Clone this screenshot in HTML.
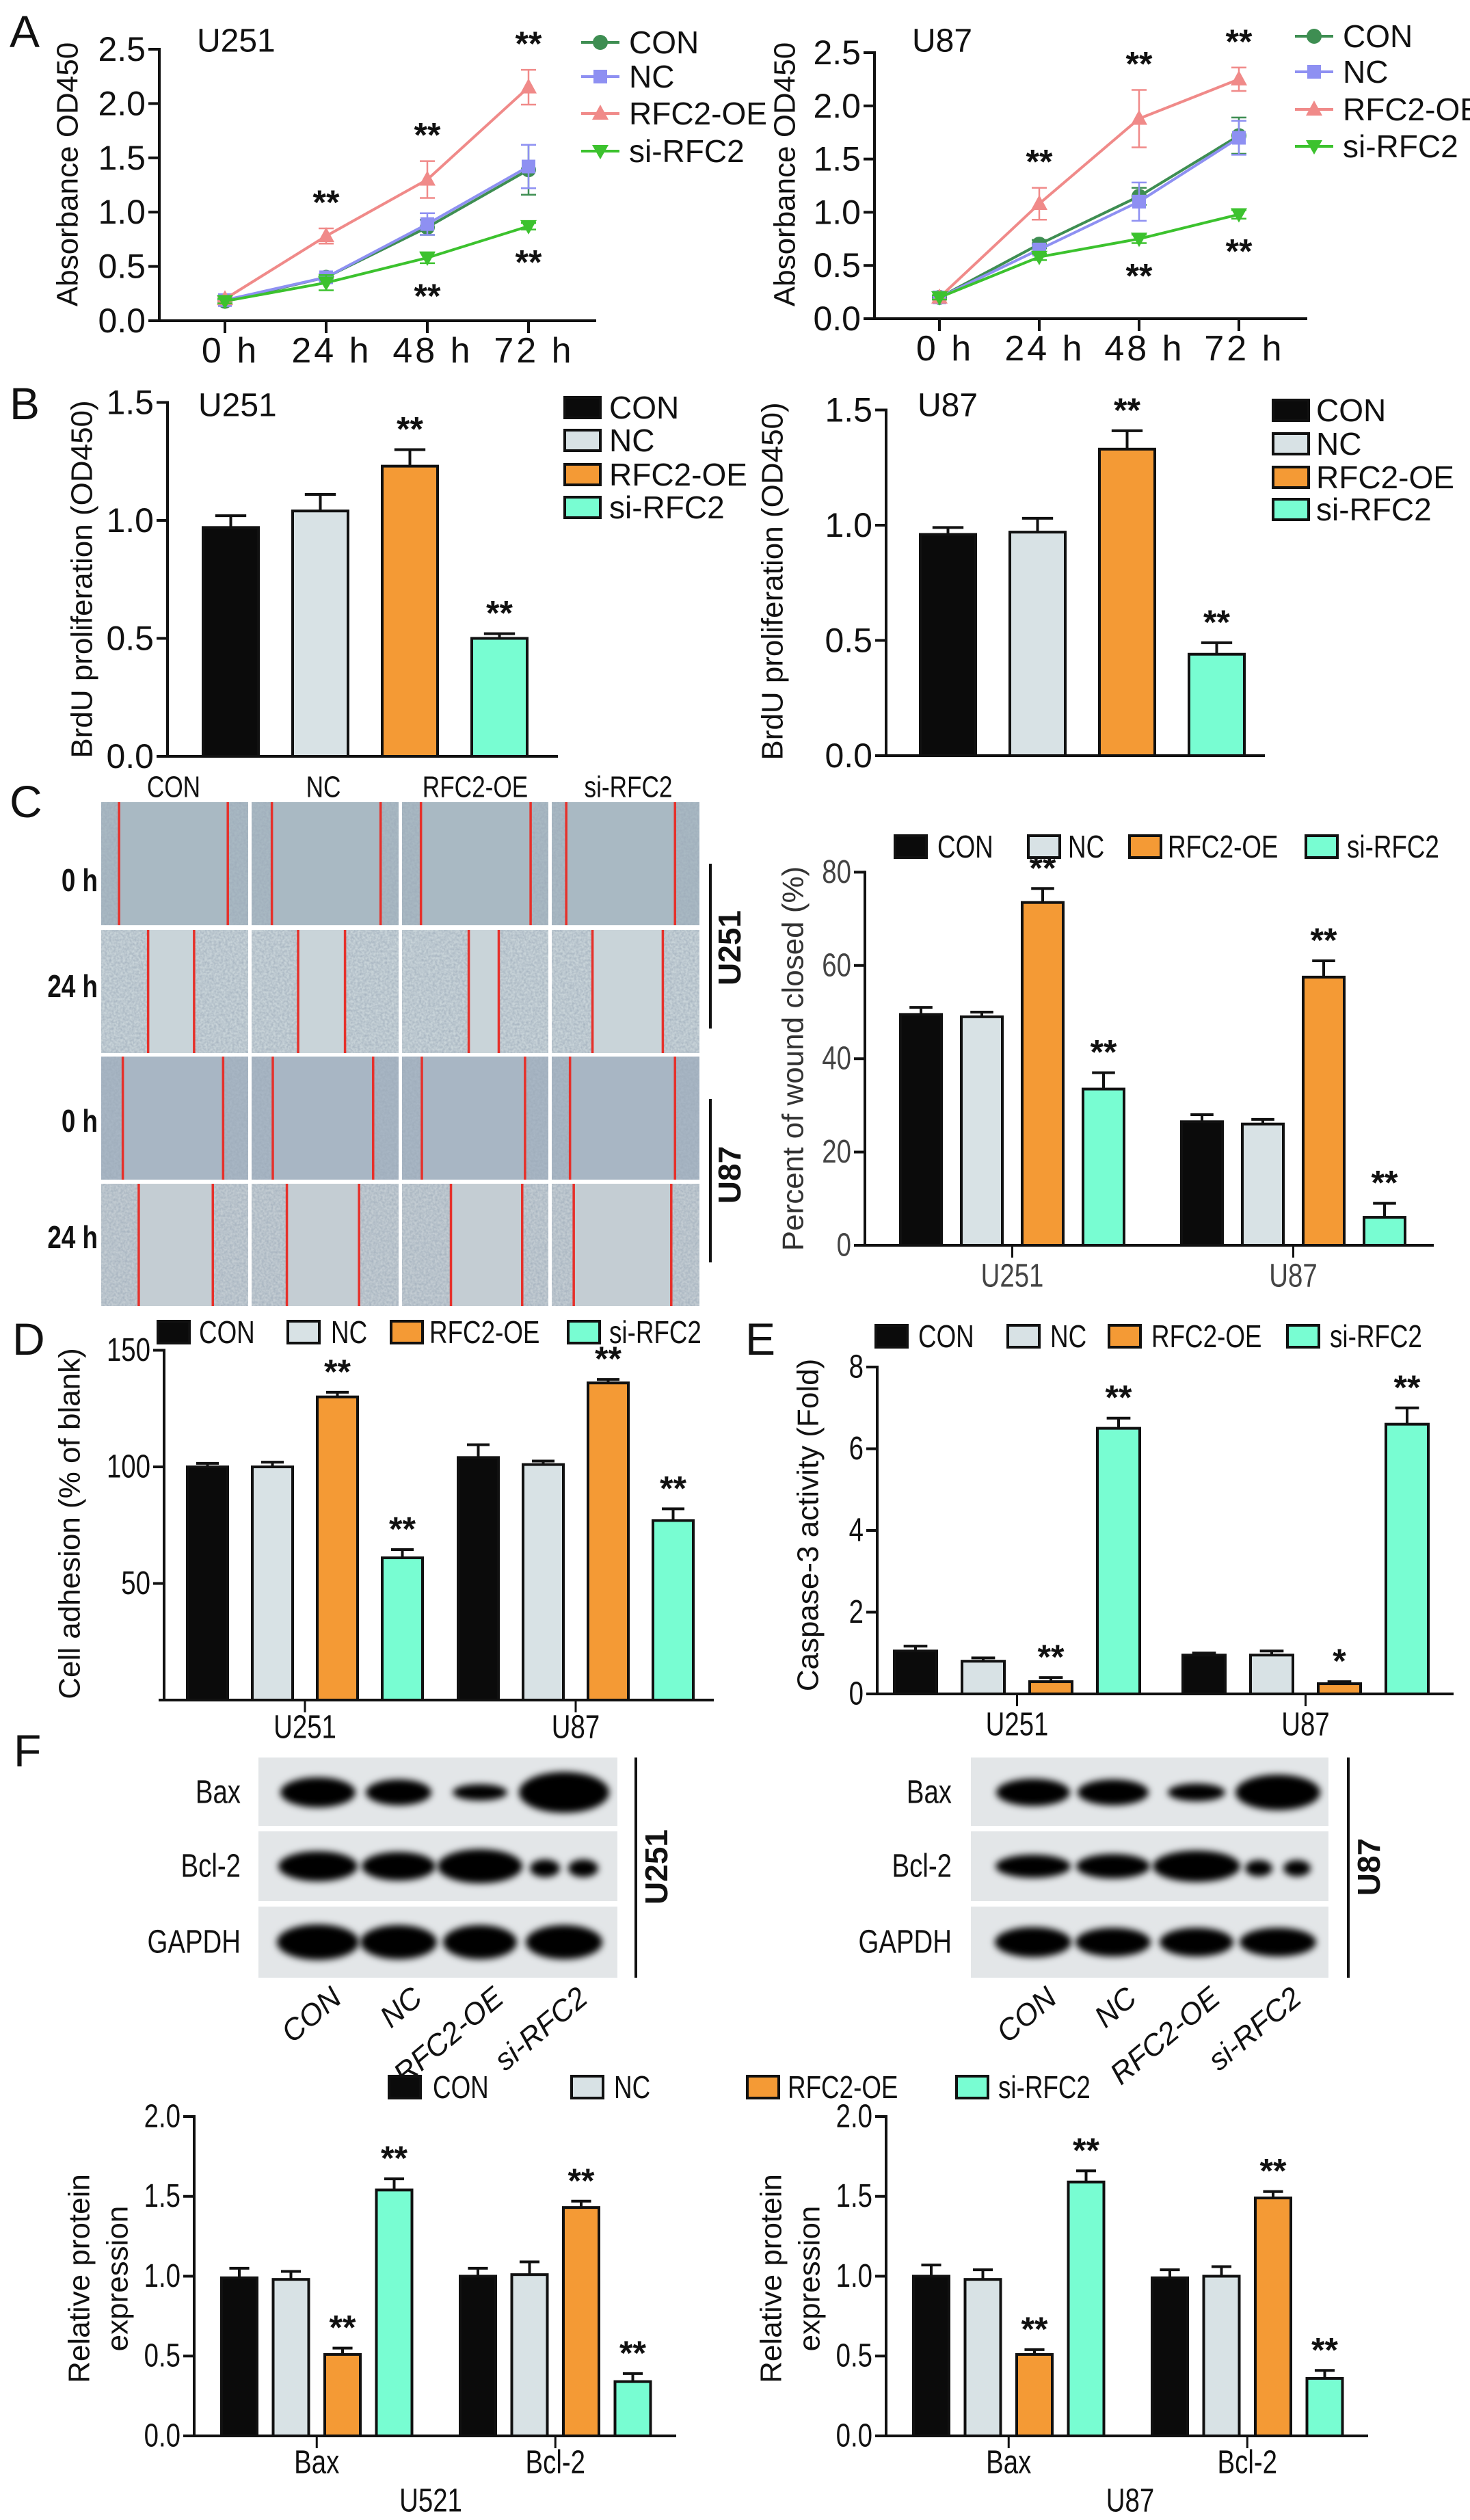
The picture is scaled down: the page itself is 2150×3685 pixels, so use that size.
<!DOCTYPE html>
<html><head><meta charset="utf-8"><style>
html,body{margin:0;padding:0;background:#fff}
svg{display:block}
text{font-family:"Liberation Sans",sans-serif}
</style></head><body>
<svg id="fig" width="2150" height="3685" viewBox="0 0 2150 3685" xmlns="http://www.w3.org/2000/svg">
<defs>
<filter id="blur" x="-30%" y="-60%" width="160%" height="220%"><feGaussianBlur stdDeviation="5"/></filter>
<filter id="tex" x="0" y="0" width="100%" height="100%"><feTurbulence type="fractalNoise" baseFrequency="0.3" numOctaves="2" seed="3"/><feColorMatrix type="matrix" values="0 0 0 0 0.33 0 0 0 0 0.4 0 0 0 0 0.48 0 0 0 1.2 -0.3"/></filter>
</defs>
</svg>
<script>
// ---------- data ----------
const timeLabels = ["0 h","24 h","48 h","72 h"];
const groups = ["CON","NC","RFC2-OE","si-RFC2"];
const yTicksA = [0,0.5,1.0,1.5,2.0,2.5];
const aU251CON = [0.18,0.40,0.86,1.39];
const aU251NC  = [0.19,0.40,0.89,1.42];
const aU251OE  = [0.20,0.78,1.30,2.15];
const aU251SI  = [0.18,0.35,0.58,0.87];
const aU251CONe = [0.02,0.03,0.07,0.23];
const aU251NCe  = [0.02,0.03,0.10,0.20];
const aU251OEe  = [0.02,0.07,0.17,0.16];
const aU251SIe  = [0.02,0.07,0.05,0.03];
const aU87CON = [0.20,0.70,1.15,1.72];
const aU87NC  = [0.20,0.65,1.10,1.70];
const aU87OE  = [0.20,1.08,1.88,2.25];
const aU87SI  = [0.20,0.58,0.75,0.98];
const aU87CONe = [0.02,0.04,0.08,0.17];
const aU87NCe  = [0.02,0.04,0.18,0.16];
const aU87OEe  = [0.02,0.15,0.27,0.11];
const aU87SIe  = [0.02,0.03,0.04,0.04];
const yTicksB = [0,0.5,1.0,1.5];
const bU251 = [0.97,1.04,1.23,0.50];
const bU251e = [0.05,0.07,0.07,0.02];
const bU87 = [0.96,0.97,1.33,0.44];
const bU87e = [0.03,0.06,0.08,0.05];
const cellLines = ["U251","U87"];
const yTicksWound = [0,20,40,60,80];
const woundU251 = [49.5,49,73.5,33.5];
const woundU251e = [1.5,1,3,3.5];
const woundU87 = [26.5,26,57.5,6];
const woundU87e = [1.5,1,3.5,3];
const yTicksAdh = [50,100,150];
const adhU251 = [100,100,130,61];
const adhU251e = [1.5,2,2,3.5];
const adhU87 = [104,101,136,77];
const adhU87e = [5.5,1.5,1.5,5];
const yTicksCasp = [0,2,4,6,8];
const caspU251 = [1.05,0.8,0.3,6.5];
const caspU251e = [0.12,0.08,0.1,0.25];
const caspU87 = [0.95,0.95,0.25,6.6];
const caspU87e = [0.05,0.1,0.05,0.4];
const proteins = ["Bax","Bcl-2"];
const yTicksProt = [0,0.5,1.0,1.5,2.0];
const protU251Bax = [0.99,0.98,0.51,1.54];
const protU251Baxe = [0.06,0.05,0.04,0.07];
const protU251Bcl = [1.0,1.01,1.43,0.34];
const protU251Bcle = [0.05,0.08,0.04,0.05];
const protU87Bax = [1.0,0.98,0.51,1.59];
const protU87Baxe = [0.07,0.06,0.03,0.07];
const protU87Bcl = [0.99,1.0,1.49,0.36];
const protU87Bcle = [0.05,0.06,0.04,0.05];

// ---------- helpers ----------
const NS="http://www.w3.org/2000/svg";
const svg=document.getElementById('fig');
function el(tag,attrs,parent,txt){const e=document.createElementNS(NS,tag);for(const k in attrs)e.setAttribute(k,attrs[k]);if(txt!==undefined)e.textContent=txt;(parent||svg).appendChild(e);return e;}
function txt(x,y,s,size,opt,parent){opt=opt||{};
  const e=el('text',{x:0,y:0,'font-size':size,'text-anchor':opt.anchor||'start','dominant-baseline':'central',fill:opt.fill||'#111','font-weight':opt.bold?'bold':'normal'},parent,s);
  let tr='translate('+x+' '+y+')';
  if(opt.rot) tr+=' rotate('+opt.rot+')';
  if(opt.narrow) tr+=' scale(0.8 1)';
  e.setAttribute('transform',tr);
  if(opt.italic)e.setAttribute('font-style','italic');return e;}
function line(x1,y1,x2,y2,w,c,parent){return el('line',{x1:x1,y1:y1,x2:x2,y2:y2,stroke:c||'#111','stroke-width':w||4},parent);}
const barFill=['#0b0b0b','#d8e2e5','#f49a35','#78fdd2'];
const lineCol=['#3e8e52','#8e90f2','#f08a89','#3cc22e'];

function legendBoxes(items,ys,xs,txs,size,narrow,bw,bh,g){
  items.forEach((name,i)=>{
    const gi=el('g',{},g);
    
    
    const y=ys[i];
    el('rect',{x:xs[i],y:y-bh/2,width:bw,height:bh,fill:barFill[i],stroke:'#111','stroke-width':4},gi);
    txt(txs[i],y,name,size,{narrow:narrow},gi);
  });
}

function barChart(o){
  const g=el('g',{});
  
  
  const Y=v=>o.y0-(v-o.vmin)*o.ppu;
  line(o.ax,o.y0,o.ax,Y(o.ticks[o.ticks.length-1])-2,4,'#111',g);
  line(o.ax-8,o.y0,o.xEnd,o.y0,4,'#111',g);
  o.ticks.forEach(t=>{line(o.ax-16,Y(t),o.ax,Y(t),4,'#111',g);
    txt(o.ax-20,Y(t),o.fmt?o.fmt(t):String(t),o.tickSize,{anchor:'end',narrow:o.narrow,fill:o.tickFill},g);});
  o.sets.forEach((vals,gi)=>{
    const errs=o.errs[gi];
    vals.forEach((v,i)=>{
      const x=o.left+gi*o.gOff+i*o.step, w=o.bw, top=Y(v);
      const r=el('rect',{x:x,y:top,width:w,height:o.y0-top,fill:barFill[i],stroke:'#111','stroke-width':4},g);
      
      
      const et=Y(v+errs[i]), cx=x+w/2;
      line(cx,top,cx,et,4,'#111',g);
      line(cx-w*0.28,et,cx+w*0.28,et,4,'#111',g);
      const st=o.stars?o.stars[gi][i]:'';
      if(st) txt(cx,et-30,st,50,{anchor:'middle',bold:true},g);
    });
    if(o.groupLabels){const gc=o.left+gi*o.gOff+(1.5*o.step)+o.bw/2;
      line(gc,o.y0,gc,o.y0+18,3,'#111',g);
      txt(gc,o.labY,o.groupLabels[gi],o.labSize,{anchor:'middle',narrow:o.narrow,fill:o.tickFill},g);}
  });
  return g;
}

function lineChart(o){
  const g=el('g',{});
  
  
  const Y=v=>o.y0-v*o.ppu, X=i=>o.x0+i*o.step;
  line(o.ax,o.y0,o.ax,Y(2.5)-2,4,'#111',g);
  line(o.ax-8,o.y0,o.xEnd,o.y0,4,'#111',g);
  yTicksA.forEach(t=>{line(o.ax-16,Y(t),o.ax,Y(t),4,'#111',g);txt(o.ax-20,Y(t),t.toFixed(1),50,{anchor:'end'},g);});
  timeLabels.forEach((l,i)=>{line(X(i),o.y0,X(i),o.y0+18,4,'#111',g);txt(X(i)+8,o.y0+44,l,52,{anchor:'middle'},g);
    g.lastChild.setAttribute('letter-spacing','4');});
  o.series.forEach((s,si)=>{
    const c=lineCol[si];
    el('polyline',{points:s.map((v,i)=>X(i)+','+Y(v)).join(' '),fill:'none',stroke:c,'stroke-width':4},g);
    s.forEach((v,i)=>{const e=o.errs[si][i];
      line(X(i),Y(v-e),X(i),Y(v+e),2.5,c,g);line(X(i)-11,Y(v-e),X(i)+11,Y(v-e),2.5,c,g);line(X(i)-11,Y(v+e),X(i)+11,Y(v+e),2.5,c,g);
      marker(X(i),Y(v),si,g);});
  });
  for(let i=1;i<4;i++){
    const s=o.series[2][i]+o.errs[2][i];
    txt(X(i),Y(s)-38,'**',50,{anchor:'middle',bold:true},g);
    if(i>1){const sb=o.series[3][i]-o.errs[3][i];
      txt(X(i),Y(sb)+48,'**',50,{anchor:'middle',bold:true},g);}
  }
  txt(o.ax+55,o.titleY,o.title,48,{},g);
  txt(o.ytx,o.yty,'Absorbance OD450',44,{anchor:'middle',rot:-90},g);
  groups.forEach((n,i)=>{const y=o.legY[i];line(o.legX,y,o.legX+56,y,4,lineCol[i],g);marker(o.legX+28,y,i,g);
    const t=txt(o.legX+70,y,n,46,{},g);});
  return g;
}
function marker(x,y,k,g){
  const c=lineCol[k];
  if(k==0) el('circle',{cx:x,cy:y,r:11,fill:c},g);
  else if(k==1) el('rect',{x:x-10,y:y-10,width:20,height:20,fill:c},g);
  else if(k==2) el('polygon',{points:(x)+','+(y-13)+' '+(x+12)+','+(y+9)+' '+(x-12)+','+(y+9),fill:c},g);
  else el('polygon',{points:(x)+','+(y+12)+' '+(x+12)+','+(y-9)+' '+(x-12)+','+(y-9),fill:c},g);
}

[['A',14,46],['B',14,590],['C',14,1172],['D',18,1958],['E',1090,1958],['F',20,2560]].forEach(p=>{
  const t=txt(p[1],p[2],p[0],66,{});});

// ---------- A ----------
lineChart({name:'line-chart-u251',ax:233,y0:469,ppu:158.8,x0:329,step:148,xEnd:872,
  series:[aU251CON,aU251NC,aU251OE,aU251SI],errs:[aU251CONe,aU251NCe,aU251OEe,aU251SIe],
  title:'U251',titleY:60,ytx:99,yty:255,legX:850,legY:[62,112,166,221]});
lineChart({name:'line-chart-u87',ax:1279,y0:466,ppu:155.6,x0:1374,step:146,xEnd:1912,
  series:[aU87CON,aU87NC,aU87OE,aU87SI],errs:[aU87CONe,aU87NCe,aU87OEe,aU87SIe],
  title:'U87',titleY:60,ytx:1148,yty:255,legX:1894,legY:[53,105,160,214]});

// ---------- B ----------
barChart({name:'bar-chart-brdu-u251',ax:245,y0:1106,vmin:0,ppu:345,ticks:yTicksB,fmt:t=>t.toFixed(1),tickSize:50,xEnd:816,
  left:297,step:131,bw:81,gOff:0,sets:[bU251],errs:[bU251e],stars:[['','','**','**']]});
barChart({name:'bar-chart-brdu-u87',ax:1296,y0:1105,vmin:0,ppu:337,ticks:yTicksB,fmt:t=>t.toFixed(1),tickSize:50,xEnd:1850,
  left:1346,step:131,bw:81,gOff:0,sets:[bU87],errs:[bU87e],stars:[['','','**','**']]});
txt(290,593,'U251',48,{});txt(1342,593,'U87',48,{});
txt(120,847,'BrdU proliferation (OD450)',44,{anchor:'middle',rot:-90});
txt(1130,850,'BrdU proliferation (OD450)',44,{anchor:'middle',rot:-90});
legendBoxes(groups,[596,644,694,742],[826,826,826,826],[891,891,891,891],46,false,52,30,svg);
legendBoxes(groups,[600,649,698,745],[1862,1862,1862,1862],[1925,1925,1925,1925],46,false,52,30,svg);

// ---------- C wound images ----------
(function(){
  const g=el('g',{});
  const colX=[[148,363],[368,583],[588,802],[807,1023]];
  const rowY=[[1173,1353],[1360,1540],[1545,1725],[1731,1910]];
  const base=['#a9b9c3','#c9d4d9','#a8b6c4','#c4cdd3'];
  const reds=[[[127,243],[290,406],[449,566],[604,720]],[[158,207],[318,368],[500,532],[632,707]],
              [[131,238],[291,398],[450,560],[608,720]],[[148,227],[306,383],[481,557],[612,716]]];
  rowY.forEach((ry,r)=>colX.forEach((cx,c)=>{
    el('rect',{x:cx[0],y:ry[0],width:cx[1]-cx[0],height:ry[1]-ry[0],fill:base[r]},g);
    const l1=reds[r][c][0]/0.7293, l2=reds[r][c][1]/0.7293;
    el('rect',{x:cx[0],y:ry[0],width:l1-cx[0],height:ry[1]-ry[0],fill:'#fff',filter:'url(#tex)'},g);
    el('rect',{x:l2,y:ry[0],width:cx[1]-l2,height:ry[1]-ry[0],fill:'#fff',filter:'url(#tex)'},g);
    line(l1,ry[0],l1,ry[1],3.5,'#e6302a',g);line(l2,ry[0],l2,ry[1],3.5,'#e6302a',g);
  }));
  [['CON',254],['NC',473],['RFC2-OE',695],['si-RFC2',919]].forEach(h=>txt(h[1],1151,h[0],44,{anchor:'middle',narrow:true},g));
  [['0 h',1287],['24 h',1442],['0 h',1639],['24 h',1809]].forEach(h=>txt(143,h[1],h[0],46,{anchor:'end',narrow:true,bold:true},g));
  line(1039,1263,1039,1504,4,'#111',g);line(1039,1607,1039,1846,4,'#111',g);
  txt(1067,1386,'U251',46,{anchor:'middle',rot:-90,bold:true},g);
  txt(1067,1718,'U87',46,{anchor:'middle',rot:-90,bold:true},g);
})();

// ---------- C wound chart ----------
barChart({name:'bar-chart-wound-closure',ax:1265,y0:1821,vmin:0,ppu:6.82,ticks:yTicksWound,tickSize:48,narrow:true,tickFill:'#444',xEnd:2097,
  left:1317,step:89,bw:60,gOff:411,sets:[woundU251,woundU87],errs:[woundU251e,woundU87e],setNames:['u251','u87'],
  stars:[['','','**','**'],['','','**','**']],groupLabels:cellLines,labY:1866,labSize:48});
txt(1160,1548,'Percent of wound closed (%)',44,{anchor:'middle',rot:-90,fill:'#333'});
legendBoxes(groups,[1238,1238,1238,1238],[1309,1504,1652,1910],[1371,1562,1708,1970],46,true,46,32,svg);

// ---------- D ----------
barChart({name:'bar-chart-cell-adhesion',ax:240,y0:2486,vmin:0,ppu:3.41,ticks:yTicksAdh,tickSize:48,narrow:true,xEnd:1044,
  left:274,step:95,bw:59,gOff:396,sets:[adhU251,adhU87],errs:[adhU251e,adhU87e],setNames:['u251','u87'],
  stars:[['','','**','**'],['','','**','**']],groupLabels:cellLines,labY:2526,labSize:48});
txt(102,2228,'Cell adhesion (% of blank)',44,{anchor:'middle',rot:-90});
legendBoxes(groups,[1948,1948,1948,1948],[231,421,572,831],[291,484,628,891],46,true,46,32,svg);

// ---------- E ----------
barChart({name:'bar-chart-caspase3',ax:1283,y0:2477,vmin:0,ppu:59.75,ticks:yTicksCasp,tickSize:48,narrow:true,xEnd:2126,
  left:1308,step:99,bw:62,gOff:422,sets:[caspU251,caspU87],errs:[caspU251e,caspU87e],setNames:['u251','u87'],
  stars:[['','','**','**'],['','','*','**']],groupLabels:cellLines,labY:2522,labSize:48});
txt(1182,2230,'Caspase-3 activity (Fold)',44,{anchor:'middle',rot:-90});
legendBoxes(groups,[1954,1954,1954,1954],[1281,1474,1622,1883],[1343,1536,1684,1945],46,true,46,32,svg);

// ---------- F blots ----------
function blot(name,x0,x1,lanes,bands,bx,lbl,labRight){
  const g=el('g',{});
  const rows=[[2570,2670],[2678,2780],[2788,2892]];
  const centers=[2621,2729,2840];
  const names=['Bax','Bcl-2','GAPDH'];
  rows.forEach((r,ri)=>{
    el('rect',{x:x0,y:r[0],width:x1-x0,height:r[1]-r[0],fill:'#e3e6e8'},g);
    lanes.forEach((lx,li)=>{const b=bands[ri][li];
      if(b.length===2) el('ellipse',{cx:lx,cy:centers[ri],rx:b[0],ry:b[1],fill:'#050505',filter:'url(#blur)'},g);
      else {el('ellipse',{cx:lx-28,cy:centers[ri]+3,rx:b[0],ry:b[1],fill:'#050505',filter:'url(#blur)'},g);
            el('ellipse',{cx:lx+28,cy:centers[ri]+3,rx:b[0],ry:b[1],fill:'#050505',filter:'url(#blur)'},g);}
    });
    txt(labRight,centers[ri],names[ri],48,{anchor:'end',narrow:true},g);
  });
  line(bx,2570,bx,2892,4,'#111',g);
  txt(bx+30,2730,lbl,46,{anchor:'middle',rot:-90,bold:true},g);
  groups.forEach((n,i)=>{txt(lanes[i]+28,2915,n,44,{anchor:'end',italic:true,rot:-40},g);});
}
blot('western-blot-u251',378,903,[465,583,702,825],
  [[[55,22],[48,19],[40,12],[66,30]],[[58,22],[54,21],[62,25],[22,13,0]],[[60,26],[56,25],[54,25],[56,25]]],930,'U251',352);
blot('western-blot-u87',1420,1943,[1511,1628,1750,1869],
  [[[54,20],[52,19],[42,13],[62,26]],[[55,17],[54,18],[64,23],[20,12,0]],[[56,22],[55,21],[54,21],[56,21]]],1972,'U87',1392);

// ---------- F quantification ----------
legendBoxes(groups,[3052,3052,3052,3052],[569,836,1093,1399],[633,898,1152,1460],46,true,46,32,svg);
function protChart(name,ax,xEnd,left,sets,errs,lab,labX){
  barChart({name:name,ax:ax,y0:3562,vmin:0,ppu:233.5,ticks:yTicksProt,fmt:t=>t.toFixed(1),tickSize:48,narrow:true,xEnd:xEnd,
    left:left,step:75.5,bw:52,gOff:349,sets:sets,errs:errs,setNames:['bax','bcl2'],
    stars:[['','','**','**'],['','','**','**']],groupLabels:proteins,labY:3601,labSize:48});
  txt(ax-168,3332,'Relative protein',44,{anchor:'middle',rot:-90});
  txt(ax-112,3332,'expression',44,{anchor:'middle',rot:-90});
  txt(labX,3657,lab,48,{anchor:'middle',narrow:true});
}
protChart('bar-chart-protein-u251',284,989,324,[protU251Bax,protU251Bcl],[protU251Baxe,protU251Bcle],'U521',630);
protChart('bar-chart-protein-u87',1296,2001,1336,[protU87Bax,protU87Bcl],[protU87Baxe,protU87Bcle],'U87',1653);
</script>
</body></html>
